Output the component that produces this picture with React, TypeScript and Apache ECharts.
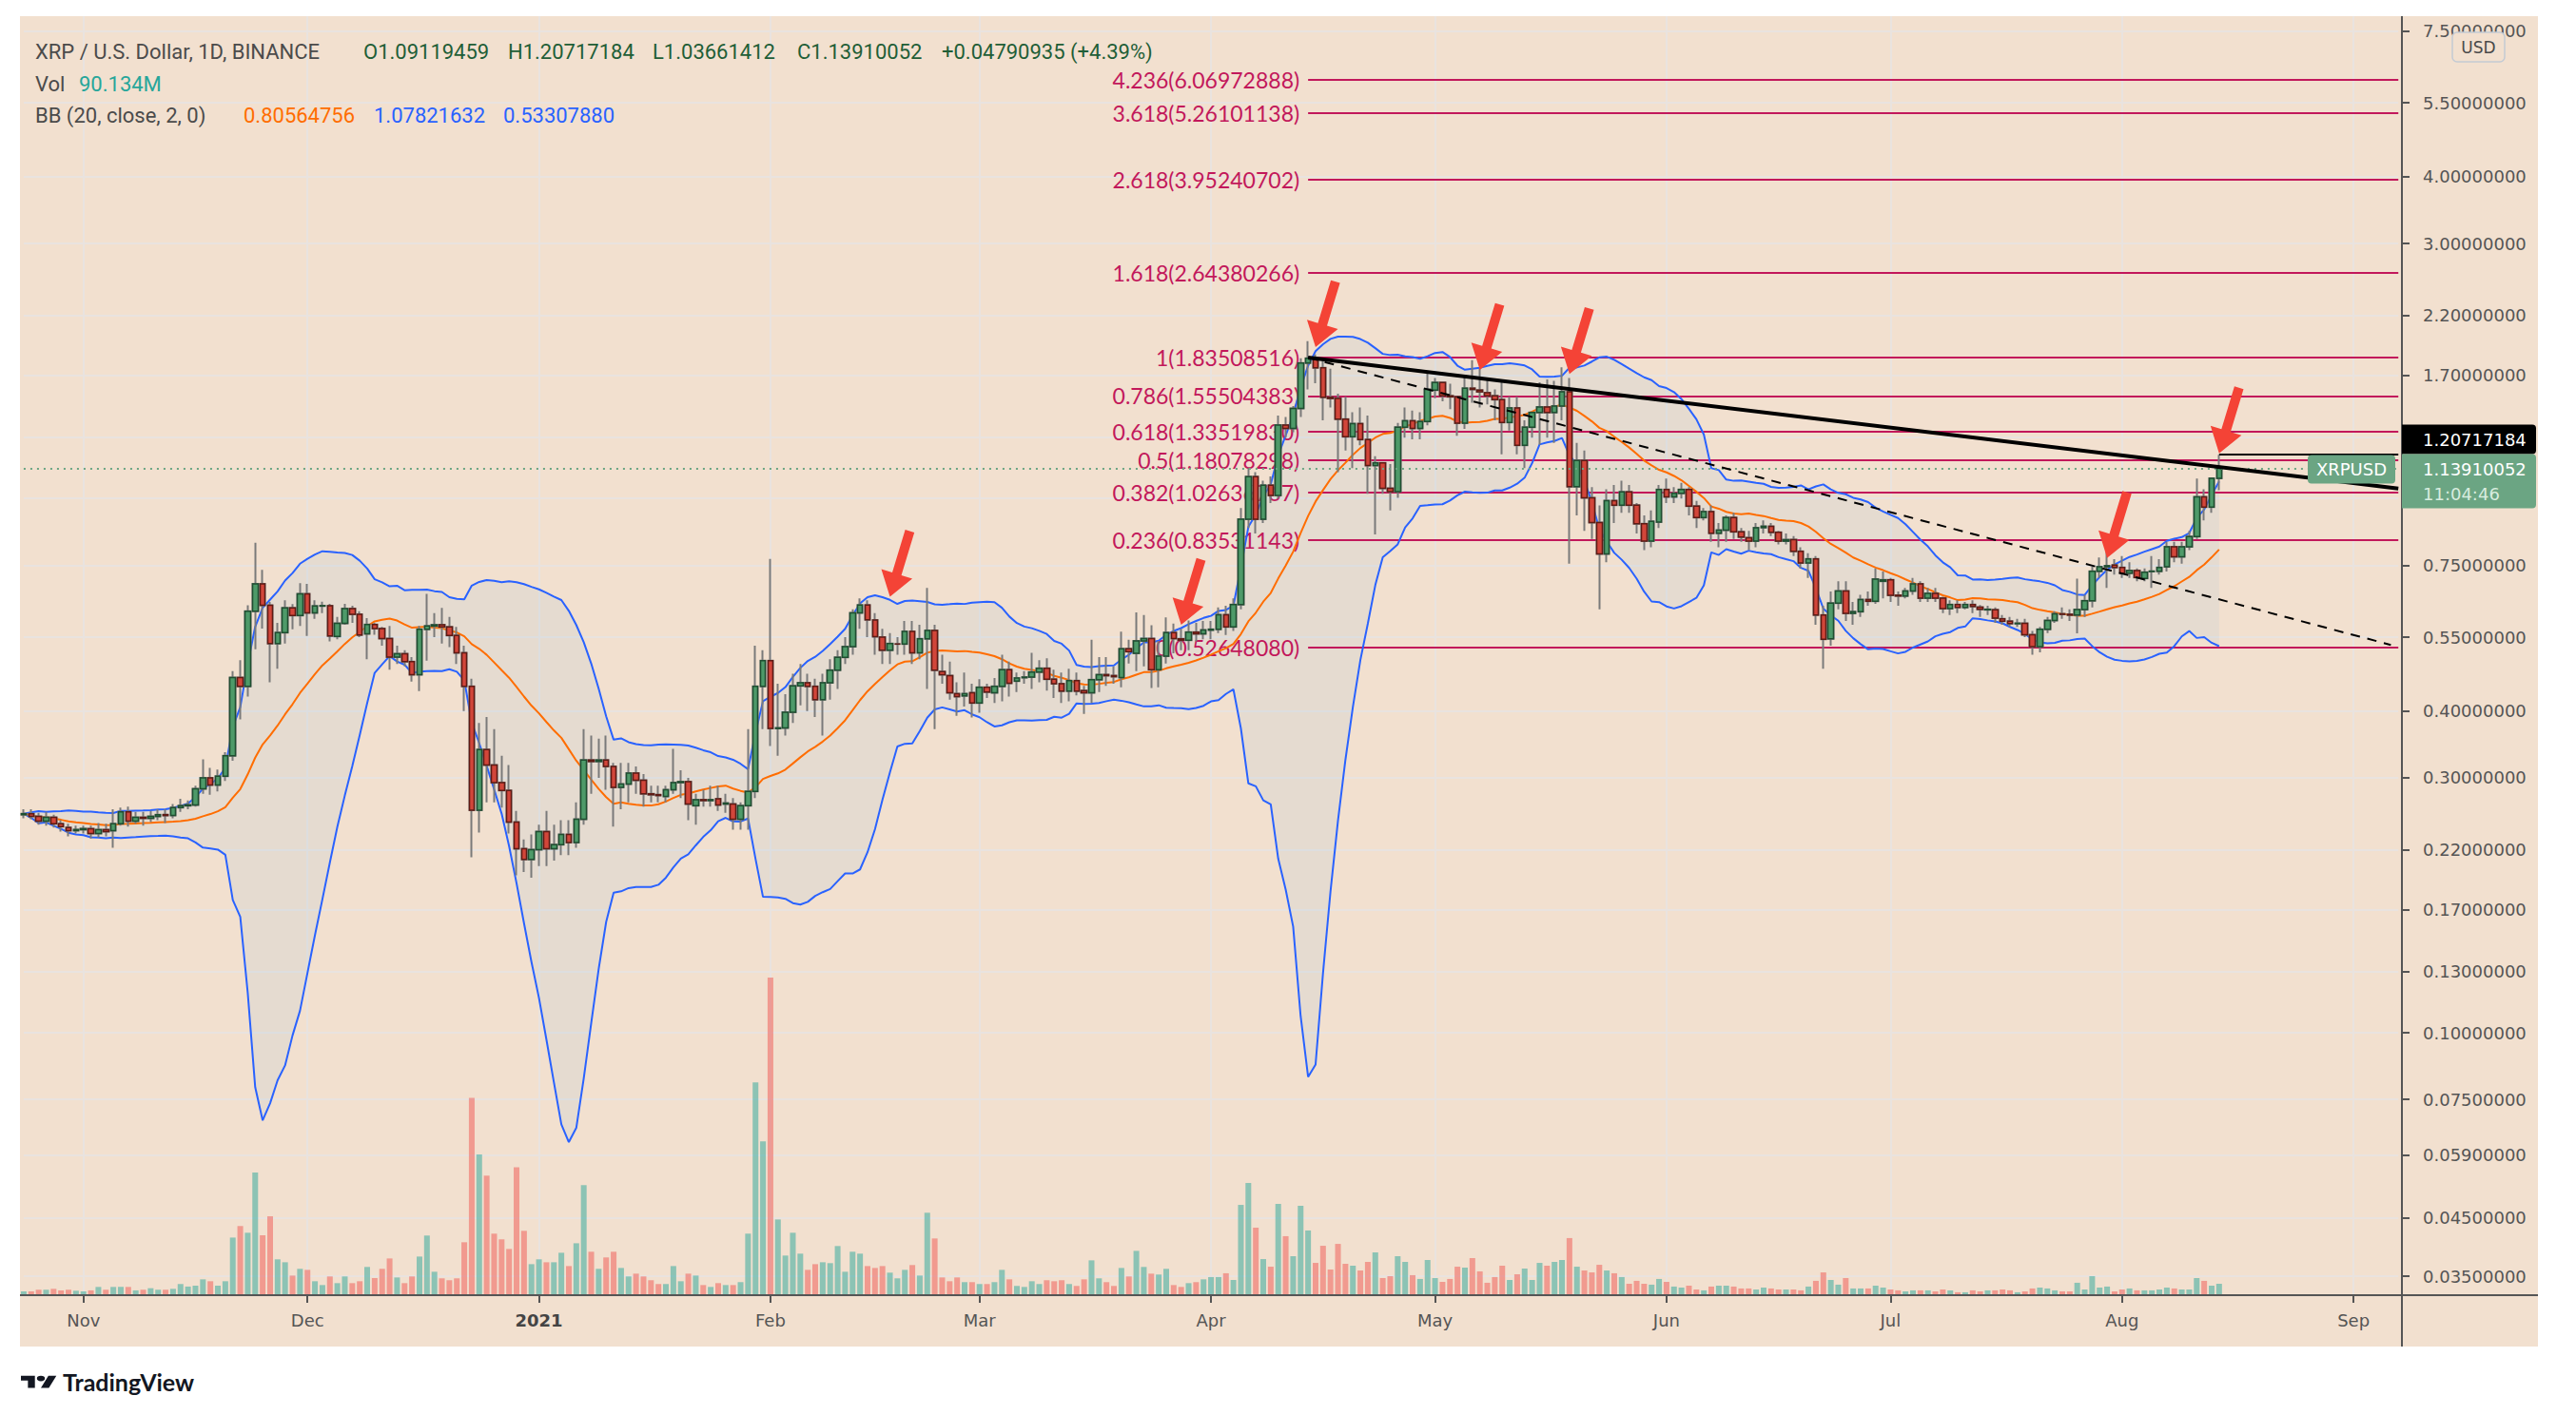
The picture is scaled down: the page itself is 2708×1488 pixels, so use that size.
import React, { useEffect, useRef } from "react";
import * as echarts from "echarts";

// ---------------- DATA ----------------
// daily candles from 2020-10-24 to 2021-08-14
const opens = [
  0.256, 0.257, 0.254, 0.249, 0.253, 0.246, 0.242, 0.239,
  0.240, 0.241, 0.236, 0.240, 0.239, 0.246, 0.259, 0.249, 0.253, 0.252, 0.254, 0.256, 0.255, 0.264, 0.266, 0.267, 0.286, 0.300, 0.291, 0.302, 0.330, 0.462, 0.445, 0.615, 0.692, 0.631, 0.535, 0.561, 0.624, 0.604,
  0.663, 0.611, 0.629, 0.630, 0.552, 0.584, 0.622, 0.607, 0.558, 0.581, 0.571, 0.547, 0.505, 0.512, 0.495, 0.468, 0.569, 0.577, 0.580, 0.575, 0.554, 0.514, 0.445, 0.261, 0.339, 0.317, 0.294, 0.284, 0.248, 0.221, 0.211,
  0.220, 0.238, 0.221, 0.225, 0.235, 0.227, 0.251, 0.324, 0.322, 0.324, 0.315, 0.288, 0.292, 0.306, 0.297, 0.280, 0.279, 0.277, 0.285, 0.294, 0.295, 0.266, 0.273, 0.272, 0.274, 0.268, 0.268, 0.251, 0.266, 0.283, 0.445,
  0.497, 0.371, 0.372, 0.398, 0.446, 0.452, 0.445, 0.420, 0.452, 0.477, 0.504, 0.528, 0.611, 0.632, 0.592, 0.550, 0.520, 0.534, 0.534, 0.564, 0.514, 0.546, 0.566, 0.474, 0.466, 0.431, 0.427, 0.433,
  0.414, 0.443, 0.433, 0.445, 0.478, 0.455, 0.462, 0.463, 0.473, 0.481, 0.459, 0.450, 0.436, 0.456, 0.437, 0.433, 0.458, 0.468, 0.466, 0.462, 0.523, 0.513, 0.541, 0.547, 0.478, 0.507, 0.561, 0.546, 0.543, 0.562, 0.558,
  0.567, 0.569, 0.606, 0.575, 0.633, 0.914, 1.098, 0.914, 1.059, 1.013, 1.372, 1.353, 1.474, 1.793, 1.830, 1.756, 1.546, 1.539, 1.408, 1.305, 1.381, 1.289, 1.153, 1.166, 1.045, 1.030, 1.360, 1.398, 1.353, 1.394,
  1.595, 1.649, 1.556, 1.550, 1.383, 1.608, 1.595, 1.578, 1.556, 1.531, 1.388, 1.477, 1.258, 1.360, 1.449, 1.483, 1.449, 1.489, 1.584, 1.052, 1.178, 1.003, 0.901, 0.787, 0.991, 0.971, 1.029, 0.971, 0.897, 0.832, 0.903,
  1.039, 1.007, 1.022, 1.039, 0.967, 0.921, 0.945, 0.861, 0.872, 0.921, 0.866, 0.844, 0.832, 0.882, 0.887, 0.864, 0.832, 0.837, 0.796, 0.757, 0.771, 0.605, 0.546, 0.637, 0.671, 0.6095, 0.614, 0.6465, 0.642, 0.700,
  0.704, 0.659, 0.657, 0.671, 0.692, 0.651, 0.664, 0.651, 0.622, 0.633, 0.625, 0.633, 0.626, 0.619, 0.619, 0.5955, 0.589, 0.583, 0.584, 0.556, 0.528, 0.569, 0.591, 0.608, 0.607, 0.605, 0.6195, 0.6437, 0.731, 0.745, 0.7503,
  0.7431, 0.725, 0.733, 0.7084, 0.730, 0.731, 0.7451, 0.8122, 0.7774, 0.8122, 0.8485, 1.0067, 0.9636, 1.09119459,
];
const highs = [
  0.262, 0.262, 0.258, 0.259, 0.256, 0.250, 0.246, 0.244,
  0.244, 0.244, 0.247, 0.246, 0.262, 0.264, 0.265, 0.259, 0.259, 0.260, 0.262, 0.262, 0.268, 0.274, 0.272, 0.290, 0.325, 0.313, 0.311, 0.335, 0.475, 0.498, 0.631, 0.826, 0.735, 0.640, 0.585, 0.645, 0.634, 0.694,
  0.692, 0.645, 0.641, 0.635, 0.600, 0.635, 0.630, 0.615, 0.597, 0.585, 0.575, 0.577, 0.530, 0.520, 0.505, 0.577, 0.663, 0.610, 0.624, 0.600, 0.575, 0.530, 0.460, 0.380, 0.390, 0.370, 0.330, 0.317, 0.260, 0.230, 0.235,
  0.245, 0.260, 0.245, 0.250, 0.250, 0.270, 0.370, 0.360, 0.355, 0.360, 0.320, 0.320, 0.320, 0.315, 0.305, 0.290, 0.290, 0.290, 0.340, 0.310, 0.300, 0.280, 0.285, 0.290, 0.290, 0.280, 0.275, 0.270, 0.370, 0.530, 0.520,
  0.771, 0.450, 0.430, 0.470, 0.490, 0.470, 0.460, 0.470, 0.500, 0.520, 0.550, 0.620, 0.650, 0.645, 0.610, 0.570, 0.560, 0.550, 0.590, 0.590, 0.580, 0.680, 0.580, 0.510, 0.495, 0.453, 0.472, 0.450,
  0.459, 0.450, 0.461, 0.510, 0.495, 0.472, 0.475, 0.514, 0.498, 0.502, 0.478, 0.472, 0.480, 0.472, 0.446, 0.544, 0.505, 0.505, 0.485, 0.563, 0.544, 0.612, 0.605, 0.579, 0.541, 0.599, 0.583, 0.570, 0.591, 0.585, 0.590,
  0.590, 0.625, 0.630, 0.650, 0.960, 1.14, 1.12, 1.08, 1.10, 1.43, 1.42, 1.49, 1.83, 1.97, 1.86, 1.81, 1.75, 1.57, 1.55, 1.45, 1.48, 1.43, 1.20, 1.17, 1.16, 1.385, 1.48, 1.46, 1.45, 1.72,
  1.68, 1.65, 1.64, 1.55, 1.70, 1.815, 1.75, 1.67, 1.60, 1.65, 1.55, 1.55, 1.40, 1.45, 1.65, 1.67, 1.66, 1.76, 1.68, 1.27, 1.23, 1.05, 0.97, 1.04, 1.06, 1.08, 1.06, 0.98, 0.93, 0.95, 1.06,
  1.09, 1.05, 1.07, 1.05, 0.99, 0.96, 0.97, 0.90, 0.93, 0.94, 0.88, 0.87, 0.90, 0.91, 0.90, 0.87, 0.86, 0.85, 0.81, 0.79, 0.78, 0.63, 0.67, 0.70, 0.70, 0.64, 0.66, 0.67, 0.74, 0.73,
  0.71, 0.67, 0.68, 0.71, 0.70, 0.68, 0.68, 0.655, 0.645, 0.645, 0.64, 0.645, 0.632, 0.63, 0.625, 0.605, 0.60, 0.595, 0.595, 0.565, 0.575, 0.60, 0.615, 0.625, 0.62, 0.708, 0.66, 0.745, 0.775, 0.807, 0.77,
  0.78, 0.76, 0.74, 0.74, 0.78, 0.77, 0.83, 0.83, 0.83, 0.87, 1.09, 1.04, 1.095, 1.20717184,
];
const lows = [
  0.252, 0.251, 0.245, 0.244, 0.242, 0.238, 0.233, 0.236,
  0.236, 0.231, 0.232, 0.233, 0.222, 0.244, 0.243, 0.246, 0.244, 0.248, 0.250, 0.247, 0.252, 0.259, 0.262, 0.265, 0.280, 0.279, 0.283, 0.296, 0.323, 0.386, 0.426, 0.522, 0.571, 0.453, 0.480, 0.535, 0.569, 0.577,
  0.553, 0.595, 0.610, 0.540, 0.545, 0.580, 0.585, 0.550, 0.500, 0.556, 0.530, 0.478, 0.490, 0.485, 0.454, 0.436, 0.497, 0.550, 0.535, 0.527, 0.490, 0.400, 0.213, 0.237, 0.270, 0.270, 0.264, 0.236, 0.197, 0.200, 0.195,
  0.205, 0.205, 0.210, 0.215, 0.215, 0.222, 0.245, 0.280, 0.300, 0.285, 0.243, 0.262, 0.270, 0.280, 0.265, 0.270, 0.270, 0.270, 0.280, 0.275, 0.250, 0.245, 0.265, 0.265, 0.260, 0.258, 0.240, 0.240, 0.240, 0.275, 0.370,
  0.344, 0.330, 0.360, 0.380, 0.410, 0.400, 0.390, 0.360, 0.420, 0.440, 0.490, 0.510, 0.570, 0.550, 0.510, 0.490, 0.490, 0.510, 0.510, 0.490, 0.500, 0.440, 0.370, 0.450, 0.420, 0.392, 0.408, 0.389,
  0.397, 0.423, 0.414, 0.417, 0.426, 0.434, 0.450, 0.440, 0.453, 0.437, 0.423, 0.414, 0.417, 0.428, 0.395, 0.414, 0.434, 0.446, 0.450, 0.443, 0.491, 0.475, 0.485, 0.442, 0.443, 0.491, 0.513, 0.520, 0.520, 0.540, 0.545,
  0.545, 0.560, 0.555, 0.565, 0.620, 0.880, 0.860, 0.900, 0.980, 1.00, 1.30, 1.33, 1.42, 1.60, 1.644, 1.40, 1.48, 1.12, 1.23, 1.14, 1.258, 1.02, 0.856, 1.02, 0.95, 1.003, 1.30, 1.29, 1.29, 1.37,
  1.54, 1.52, 1.47, 1.31, 1.35, 1.51, 1.48, 1.50, 1.40, 1.21, 1.34, 1.21, 1.14, 1.30, 1.26, 1.30, 1.27, 1.40, 0.755, 0.93, 0.87, 0.84, 0.62, 0.76, 0.90, 0.94, 0.94, 0.86, 0.80, 0.81, 0.88,
  0.98, 0.98, 1.00, 0.93, 0.88, 0.91, 0.83, 0.81, 0.83, 0.84, 0.83, 0.80, 0.81, 0.86, 0.85, 0.82, 0.82, 0.78, 0.74, 0.71, 0.58, 0.48, 0.53, 0.62, 0.59, 0.58, 0.60, 0.63, 0.635, 0.65,
  0.64, 0.63, 0.65, 0.66, 0.64, 0.64, 0.64, 0.61, 0.605, 0.61, 0.62, 0.61, 0.60, 0.605, 0.585, 0.58, 0.575, 0.575, 0.55, 0.51, 0.515, 0.56, 0.585, 0.595, 0.59, 0.559, 0.60, 0.625, 0.71, 0.68, 0.72,
  0.71, 0.71, 0.70, 0.70, 0.68, 0.72, 0.73, 0.76, 0.755, 0.80, 0.84, 0.91, 0.94, 1.03661412,
];
const closes = [
  0.257, 0.254, 0.249, 0.253, 0.246, 0.243, 0.239, 0.240,
  0.241, 0.236, 0.240, 0.238, 0.246, 0.259, 0.249, 0.253, 0.252, 0.254, 0.256, 0.255, 0.264, 0.266, 0.267, 0.286, 0.300, 0.291, 0.302, 0.330, 0.462, 0.445, 0.615, 0.692, 0.631, 0.535, 0.561, 0.624, 0.604, 0.663,
  0.611, 0.629, 0.630, 0.553, 0.584, 0.622, 0.607, 0.555, 0.581, 0.571, 0.547, 0.505, 0.512, 0.495, 0.468, 0.569, 0.577, 0.580, 0.575, 0.554, 0.514, 0.445, 0.261, 0.339, 0.317, 0.294, 0.284, 0.248, 0.221, 0.211, 0.220,
  0.238, 0.221, 0.225, 0.235, 0.227, 0.251, 0.324, 0.322, 0.324, 0.315, 0.288, 0.292, 0.306, 0.297, 0.280, 0.279, 0.278, 0.285, 0.294, 0.295, 0.268, 0.273, 0.272, 0.273, 0.267, 0.269, 0.251, 0.266, 0.283, 0.445, 0.497,
  0.371, 0.372, 0.398, 0.446, 0.452, 0.445, 0.420, 0.452, 0.477, 0.504, 0.528, 0.611, 0.632, 0.593, 0.551, 0.520, 0.535, 0.534, 0.564, 0.514, 0.546, 0.566, 0.477, 0.468, 0.433, 0.426, 0.431, 0.414,
  0.443, 0.434, 0.445, 0.478, 0.451, 0.461, 0.463, 0.473, 0.481, 0.459, 0.450, 0.436, 0.456, 0.436, 0.433, 0.458, 0.468, 0.466, 0.464, 0.523, 0.517, 0.541, 0.547, 0.478, 0.507, 0.561, 0.547, 0.543, 0.562, 0.558, 0.567,
  0.569, 0.606, 0.575, 0.633, 0.914, 1.098, 0.914, 1.059, 1.013, 1.372, 1.353, 1.474, 1.793, 1.830, 1.756, 1.546, 1.539, 1.408, 1.305, 1.381, 1.289, 1.153, 1.166, 1.045, 1.030, 1.360, 1.398, 1.353, 1.394, 1.600,
  1.649, 1.556, 1.550, 1.383, 1.608, 1.600, 1.584, 1.556, 1.531, 1.388, 1.477, 1.258, 1.360, 1.449, 1.483, 1.449, 1.489, 1.584, 1.052, 1.178, 1.003, 0.901, 0.787, 0.991, 0.971, 1.029, 0.971, 0.897, 0.832, 0.906, 1.039,
  1.007, 1.022, 1.039, 0.967, 0.921, 0.945, 0.861, 0.872, 0.921, 0.866, 0.847, 0.832, 0.881, 0.887, 0.864, 0.832, 0.837, 0.796, 0.757, 0.771, 0.605, 0.545, 0.637, 0.671, 0.6095, 0.614, 0.6465, 0.642, 0.706, 0.704,
  0.659, 0.657, 0.671, 0.692, 0.651, 0.664, 0.651, 0.622, 0.633, 0.625, 0.633, 0.628, 0.620, 0.620, 0.597, 0.589, 0.583, 0.584, 0.556, 0.528, 0.569, 0.591, 0.608, 0.607, 0.605, 0.6195, 0.6437, 0.731, 0.745, 0.7483, 0.7431,
  0.725, 0.733, 0.7113, 0.728, 0.731, 0.7431, 0.8122, 0.7774, 0.8122, 0.8485, 1.0067, 0.9636, 1.0912, 1.13910052,
];
// volume in millions
const volumes = [
  30, 30, 43, 43, 50, 38, 43, 35,
  30, 38, 65, 43, 65, 65, 65, 38, 43, 55, 43, 43, 50, 88, 68, 75, 125, 110, 75, 110, 455, 546, 493, 969, 473, 623, 283, 260, 155, 208,
  200, 110, 80, 148, 95, 148, 95, 110, 223, 135, 208, 290, 140, 95, 148, 305, 471, 185, 133, 118, 133, 418, 1559, 1111, 944, 486, 441, 365, 1011, 508, 245,
  283, 260, 260, 335, 230, 410, 869, 343, 208, 298, 343, 215, 148, 170, 148, 118, 88, 88, 230, 110, 170, 155, 80, 65, 95, 80, 80, 103, 486, 1680, 1214,
  2508, 598, 313, 493, 328, 200, 245, 260, 253, 388, 185, 343, 328, 230, 215, 230, 178, 133, 200, 238, 155, 651, 448, 140, 110, 140, 103, 103,
  88, 88, 103, 200, 125, 73, 65, 110, 88, 118, 110, 118, 88, 73, 125, 275, 133, 103, 73, 215, 148, 350, 223, 170, 163, 208, 80, 65, 95, 103, 125,
  143, 143, 173, 120, 713, 886, 533, 285, 225, 721, 466, 308, 706, 511, 255, 390, 203, 405, 248, 233, 195, 263, 338, 135, 150, 308, 263, 158, 128, 278,
  135, 105, 128, 225, 218, 293, 188, 98, 143, 233, 120, 165, 210, 120, 255, 233, 263, 278, 451, 225, 195, 180, 240, 195, 173, 143, 90, 113, 90, 83, 128,
  105, 68, 60, 75, 45, 38, 68, 75, 75, 68, 53, 53, 45, 60, 53, 45, 45, 45, 38, 68, 113, 180, 120, 83, 135, 53, 53, 53, 75, 60,
  45, 38, 30, 38, 38, 38, 30, 45, 38, 23, 23, 38, 30, 38, 38, 45, 38, 23, 30, 53, 60, 53, 38, 30, 30, 98, 45, 150, 60, 68, 30,
  45, 53, 38, 38, 38, 45, 60, 53, 45, 45, 135, 113, 75, 90.134,
];

const firstDate = [2020, 9, 24]; // 2020-10-24 (month 0-based)
const lastAxisDate = [2021, 8, 7]; // 2021-09-07

const priceTicks = [7.5, 5.5, 4.0, 3.0, 2.2, 1.7, 1.3, 1.0, 0.75, 0.55, 0.4, 0.3, 0.22, 0.17, 0.13, 0.1, 0.075, 0.059, 0.045, 0.035];
const coveredTickLabels = [1.3, 1.0];

const monthLabels: Record<string, string> = {
  "2020-11-01": "Nov", "2020-12-01": "Dec", "2021-01-01": "2021", "2021-02-01": "Feb", "2021-03-01": "Mar",
  "2021-04-01": "Apr", "2021-05-01": "May", "2021-06-01": "Jun", "2021-07-01": "Jul", "2021-08-01": "Aug", "2021-09-01": "Sep",
};

const fibRatios = ["4.236", "3.618", "2.618", "1.618", "1", "0.786", "0.618", "0.5", "0.382", "0.236", "0"];
const fibPrices = [6.06972888, 5.26101138, 3.95240702, 2.64380266, 1.83508516, 1.55504383, 1.3351983, 1.18078298, 1.02636767, 0.83531143, 0.5264808];
const fibStart = "2021-04-14";

const trendSolid: [string, number][] = [["2021-04-14", 1.835], ["2021-09-07", 1.044]];
const trendDashed: [string, number][] = [["2021-04-14", 1.835], ["2021-09-06", 0.532]];

const arrowTips: [string, number][] = [
  ["2021-02-17", 0.655], ["2021-03-28", 0.58], ["2021-04-15", 1.92], ["2021-05-07", 1.74],
  ["2021-05-19", 1.71], ["2021-07-30", 0.774], ["2021-08-14", 1.215],
];

const lastClose = 1.13910052;
const lastHigh = 1.20717184;

const headerLine1 = ["XRP / U.S. Dollar, 1D, BINANCE", "O1.09119459", "H1.20717184", "L1.03661412", "C1.13910052", "+0.04790935 (+4.39%)"];
const headerLine2 = ["Vol", "90.134M"];
const headerLine3 = ["BB (20, close, 2, 0)", "0.80564756", "1.07821632", "0.53307880"];

// ---------------- LAYOUT / STYLE ----------------
const W = 2708, H = 1488;
const BG_LEFT = 21, BG_TOP = 17, BG_RIGHT = 2668, BG_BOTTOM = 1416;
const AXIS_X = 2525, AXIS_Y = 1362;
const DAY_PX = 7.85;
const Y_MAX = 2.0786, Y_MIN = -3.4337;
const VOL_TOP = 1000;
const GRID_COLOR = "#E9E3DF";
const FIB = "#C2185B";
const AXIS_TXT = "#555555";
const UP_FILL = "#4E9A69", UP_BORDER = "#1F4E30";
const DN_FILL = "#D2463A", DN_BORDER = "#5E1B14";
const WICK = "#7A7A7A";
const GREEN_LABEL = "#6BA583";

const L = (v: number) => Math.log(v);

function buildDates(): string[] {
  const out: string[] = [];
  const d = new Date(Date.UTC(firstDate[0], firstDate[1], firstDate[2]));
  const end = Date.UTC(lastAxisDate[0], lastAxisDate[1], lastAxisDate[2]);
  while (d.getTime() <= end) {
    out.push(d.toISOString().slice(0, 10));
    d.setUTCDate(d.getUTCDate() + 1);
  }
  return out;
}

function bollinger(cl: number[], n: number, k: number) {
  const mid: number[] = [], up: number[] = [], lo: number[] = [];
  for (let i = 0; i < cl.length; i++) {
    const w = cl.slice(Math.max(0, i - n + 1), i + 1);
    const m = w.reduce((a, b) => a + b, 0) / w.length;
    const v = w.reduce((a, b) => a + (b - m) * (b - m), 0) / w.length;
    const sd = Math.sqrt(v);
    mid.push(m); up.push(m + k * sd); lo.push(m - k * sd);
  }
  return { mid, up, lo };
}

const TVLogo = echarts.graphic.extendPath(
  "M14 22H7V11H0V4h14v18zM28 22h-8l7.5-18h8L28 22zM24 8a4 4 0 1 1-8 0a4 4 0 1 1 8 0z",
  {}
);
echarts.graphic.registerShape("tvlogo", TVLogo);

function buildOption() {
  const dates = buildDates();
  const n = dates.length;
  const lastDate = dates[n - 1];
  const gridLeft = BG_LEFT + DAY_PX / 2;
  const gridRight = W - (gridLeft + (n - 1) * DAY_PX);
  const bb = bollinger(closes, 20, 2);
  const isMonth = (_i: number, v: string) => !!monthLabels[v];

  const wickData = opens.map((o, i) => {
    const h = Math.max(highs[i], o, closes[i]);
    const l = Math.min(lows[i], o, closes[i]);
    return [L(o), L(closes[i]), L(l), L(h)];
  });
  const bodyData = opens.map((o, i) => [L(o), L(closes[i]), L(Math.min(o, closes[i])), L(Math.max(o, closes[i]))]);
  const lowerLn = bb.lo.map((v) => (v > 0 ? L(v) : null));
  const upperLn = bb.up.map((v) => L(v));
  const fillLn = upperLn.map((u, i) => (lowerLn[i] == null ? null : u - (lowerLn[i] as number)));
  const volData = volumes.map((v, i) => ({
    value: v,
    itemStyle: { color: closes[i] >= opens[i] ? "rgba(38,166,154,0.5)" : "rgba(239,83,80,0.5)" },
  }));

  const fibLines = fibPrices.map((p, i) => [
    { coord: [fibStart, L(p)], name: `${fibRatios[i]}(${p.toFixed(8)})` },
    { coord: [lastDate, L(p)] },
  ]);

  const fontAxis = "DejaVu Sans";

  return {
    animation: false,
    backgroundColor: "transparent",
    grid: [
      { left: gridLeft, right: gridRight, top: BG_TOP, bottom: H - AXIS_Y },
      { left: gridLeft, right: gridRight, top: VOL_TOP, bottom: H - AXIS_Y },
    ],
    xAxis: [
      {
        type: "category", gridIndex: 0, data: dates, boundaryGap: false, position: "bottom",
        axisLine: { show: false, onZero: false },
        axisTick: { show: true, interval: isMonth, length: 8, lineStyle: { color: AXIS_TXT, width: 2 } },
        axisLabel: {
          show: true, interval: isMonth, margin: 17, color: AXIS_TXT, fontSize: 18, fontFamily: fontAxis,
          formatter: (v: string) => (monthLabels[v] === "2021" ? "{y|2021}" : monthLabels[v] || ""),
          rich: { y: { fontWeight: "bold", color: "#444", fontSize: 18, fontFamily: fontAxis } },
        },
        splitLine: { show: true, interval: isMonth, lineStyle: { color: GRID_COLOR, width: 2 } },
      },
      {
        type: "category", gridIndex: 1, data: dates, boundaryGap: false,
        axisLine: { show: false, onZero: false }, axisTick: { show: false }, axisLabel: { show: false }, splitLine: { show: false },
      },
    ],
    yAxis: [
      {
        type: "value", gridIndex: 0, position: "right", offset: AXIS_X - (gridLeft + (n - 1) * DAY_PX),
        min: Y_MIN, max: Y_MAX,
        axisLine: { show: false, onZero: false },
        axisTick: { show: true, customValues: priceTicks.map(L), length: 8, lineStyle: { color: AXIS_TXT, width: 2 } },
        axisLabel: {
          show: true, customValues: priceTicks.filter((t) => coveredTickLabels.indexOf(t) < 0).map(L),
          formatter: (v: number) => Math.exp(v).toFixed(8), color: AXIS_TXT, fontSize: 18, fontFamily: fontAxis, margin: 22,
        },
        splitLine: { show: true, lineStyle: { color: GRID_COLOR, width: 2 } },
      },
      {
        type: "value", gridIndex: 1, min: 0, max: (AXIS_Y - VOL_TOP) * 7.51,
        axisLine: { show: false, onZero: false }, axisTick: { show: false }, axisLabel: { show: false }, splitLine: { show: false },
      },
    ],
    series: [
      {
        name: "bbBase", type: "line", xAxisIndex: 0, yAxisIndex: 0, data: lowerLn, stack: "bb", stackStrategy: "all",
        symbol: "none", lineStyle: { opacity: 0 }, silent: true, z: 1,
      },
      {
        name: "bbFill", type: "line", xAxisIndex: 0, yAxisIndex: 0, data: fillLn, stack: "bb", stackStrategy: "all",
        symbol: "none", lineStyle: { opacity: 0 }, areaStyle: { color: "rgba(33,150,243,0.06)", opacity: 1 }, silent: true, z: 1,
      },
      {
        name: "Volume", type: "bar", xAxisIndex: 1, yAxisIndex: 1, data: volData, barWidth: 6, silent: true, z: 1,
      },
      {
        name: "BB upper", type: "line", xAxisIndex: 0, yAxisIndex: 0, data: upperLn, symbol: "none",
        lineStyle: { color: "#2962FF", width: 2 }, silent: true, z: 2,
      },
      {
        name: "BB lower", type: "line", xAxisIndex: 0, yAxisIndex: 0, data: lowerLn, symbol: "none",
        lineStyle: { color: "#2962FF", width: 2 }, silent: true, z: 2,
      },
      {
        name: "BB basis", type: "line", xAxisIndex: 0, yAxisIndex: 0, data: bb.mid.map(L), symbol: "none",
        lineStyle: { color: "#FF6D00", width: 2 }, silent: true, z: 2,
        markLine: {
          silent: true, symbol: ["none", "none"], z: 2, animation: false,
          lineStyle: { color: FIB, width: 2, type: "solid" },
          label: { show: true, position: "start", distance: 9, color: FIB, fontSize: 23, fontFamily: "Lato", formatter: "{b}" },
          emphasis: { disabled: true },
          data: fibLines,
        },
      },
      {
        name: "wicks", type: "candlestick", xAxisIndex: 0, yAxisIndex: 0, data: wickData, barWidth: 6, clip: false,
        itemStyle: { color: WICK, color0: WICK, borderColor: WICK, borderColor0: WICK, borderWidth: 2 }, silent: true, z: 3,
      },
      {
        name: "XRPUSD", type: "candlestick", xAxisIndex: 0, yAxisIndex: 0, data: bodyData, barWidth: 6, clip: false,
        itemStyle: { color: UP_FILL, color0: DN_FILL, borderColor: UP_BORDER, borderColor0: DN_BORDER, borderWidth: 1.5 },
        silent: true, z: 3,
      },
      {
        name: "trend", type: "line", xAxisIndex: 0, yAxisIndex: 0, data: trendSolid.map(([d, p]) => [d, L(p)]),
        symbol: "none", lineStyle: { color: "#000", width: 4 }, silent: true, z: 4,
        markLine: {
          silent: true, symbol: ["none", "none"], z: 4, animation: false, label: { show: false },
          emphasis: { disabled: true },
          data: [
            { yAxis: L(lastClose), lineStyle: { color: GREEN_LABEL, width: 2, type: [2, 5] } },
            [
              { coord: [dates[opens.length - 1], L(lastHigh)], lineStyle: { color: "#000", width: 2, type: "solid" } },
              { coord: [lastDate, L(lastHigh)] },
            ],
          ],
        },
      },
      {
        name: "trendDashed", type: "line", xAxisIndex: 0, yAxisIndex: 0, data: trendDashed.map(([d, p]) => [d, L(p)]),
        symbol: "none", lineStyle: { color: "#000", width: 2, type: [10, 8] }, silent: true, z: 4,
      },
    ],
  };
}

function arrowPoints(tx: number, ty: number) {
  const dx = -0.29, dy = 0.957;
  const nx = dy, ny = -dx;
  const total = 72, head = 25, sw = 10, hw = 34;
  const bx = tx - dx * head, by = ty - dy * head;
  const sx = tx - dx * total, sy = ty - dy * total;
  return [
    [sx + (nx * sw) / 2, sy + (ny * sw) / 2],
    [bx + (nx * sw) / 2, by + (ny * sw) / 2],
    [bx + (nx * hw) / 2, by + (ny * hw) / 2],
    [tx, ty],
    [bx - (nx * hw) / 2, by - (ny * hw) / 2],
    [bx - (nx * sw) / 2, by - (ny * sw) / 2],
    [sx - (nx * sw) / 2, sy - (ny * sw) / 2],
  ];
}

function txt(text: string, x: number, y: number, fill: string, font: string, align = "left", z = 100) {
  return {
    type: "text", x, y, z, silent: true,
    style: { text, fill, font, align, textAlign: align, verticalAlign: "middle", textVerticalAlign: "middle" },
  };
}

function buildGraphics(chart: any) {
  const g: any[] = [];
  const pix = (d: string, p: number) => chart.convertToPixel({ gridIndex: 0 }, [d, L(p)]) as number[];

  // axis lines
  g.push({ type: "line", z: 50, silent: true, shape: { x1: AXIS_X, y1: BG_TOP, x2: AXIS_X, y2: BG_BOTTOM }, style: { stroke: "#555", lineWidth: 2 } });
  g.push({ type: "line", z: 50, silent: true, shape: { x1: BG_LEFT, y1: AXIS_Y, x2: BG_RIGHT, y2: AXIS_Y }, style: { stroke: "#555", lineWidth: 2 } });

  // header
  const hf = "22px Roboto";
  const l1x = [37, 382, 534, 686, 838, 990];
  headerLine1.forEach((t, i) => g.push(txt(t, l1x[i], 54, i === 0 ? "#4B4B4B" : "#1F5E37", hf)));
  g.push(txt(headerLine2[0], 37, 88, "#4B4B4B", hf));
  g.push(txt(headerLine2[1], 83, 88, "#26A69A", hf));
  const l3x = [37, 256, 393, 529];
  const l3c = ["#4B4B4B", "#FF6D00", "#2962FF", "#2962FF"];
  headerLine3.forEach((t, i) => g.push(txt(t, l3x[i], 121, l3c[i], hf)));

  // USD box
  g.push({ type: "rect", z: 100, silent: true, shape: { x: 2578, y: 34, width: 55, height: 31, r: 5 }, style: { fill: "#F2E0CF", stroke: "#C3CAD4", lineWidth: 1.5 } });
  g.push(txt("USD", 2605.5, 50, "#4A4A4A", "17px DejaVu Sans", "center", 101));

  // price labels
  const py = pix("2021-08-14", lastClose)[1];
  g.push({ type: "rect", z: 100, silent: true, shape: { x: AXIS_X, y: py - 46, width: 141, height: 31, r: [0, 4, 4, 0] }, style: { fill: "#000" } });
  g.push(txt(lastHigh.toFixed(8), 2547, py - 30, "#FFFFFF", "18px DejaVu Sans", "left", 101));
  g.push({ type: "rect", z: 100, silent: true, shape: { x: AXIS_X, y: py - 15, width: 141, height: 57, r: [0, 4, 4, 0] }, style: { fill: GREEN_LABEL } });
  g.push(txt(lastClose.toFixed(8), 2547, py + 1, "#FFFFFF", "18px DejaVu Sans", "left", 101));
  g.push(txt("11:04:46", 2547, py + 27, "#D8ECDF", "18px DejaVu Sans", "left", 101));
  g.push({ type: "rect", z: 100, silent: true, shape: { x: 2426, y: py - 14, width: 92, height: 30, r: 4 }, style: { fill: GREEN_LABEL } });
  g.push(txt("XRPUSD", 2472, py + 1, "#FFFFFF", "18px DejaVu Sans", "center", 101));

  // arrows
  arrowTips.forEach(([d, p]) => {
    const [x, y] = pix(d, p);
    g.push({ type: "polygon", z: 90, silent: true, shape: { points: arrowPoints(x, y) }, style: { fill: "#F44336" } });
  });

  // TradingView logo
  g.push({ type: "tvlogo", x: 22, y: 1444, scaleX: 1.05, scaleY: 0.7, z: 100, silent: true, style: { fill: "#131722" } });
  g.push(txt("TradingView", 66, 1453, "#131722", "bold 25px Lato", "left", 100));

  return g;
}

export default function App() {
  const ref = useRef<HTMLDivElement>(null);
  useEffect(() => {
    if (!ref.current) return;
    const chart = echarts.init(ref.current, null, { renderer: "svg", width: W, height: H });
    chart.setOption(buildOption() as any);
    chart.setOption({ graphic: buildGraphics(chart) } as any);
    return () => chart.dispose();
  }, []);
  return (
    <div style={{ position: "absolute", left: 0, top: 0, width: W, height: H, background: "#FFFFFF", overflow: "hidden" }}>
      <div
        style={{
          position: "absolute", left: BG_LEFT, top: BG_TOP, width: BG_RIGHT - BG_LEFT, height: BG_BOTTOM - BG_TOP,
          background: "#F2E0CF",
        }}
      />
      <div ref={ref} style={{ position: "absolute", left: 0, top: 0, width: W, height: H }} />
    </div>
  );
}
